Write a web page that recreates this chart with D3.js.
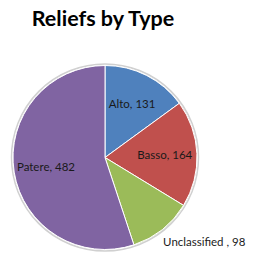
<!DOCTYPE html>
<html><head><meta charset="utf-8">
<script src="https://cdn.jsdelivr.net/npm/d3@7"></script>
<style>html,body{margin:0;padding:0;background:#fff;}svg{display:block;}</style>
</head><body>
<script>
const title = "Reliefs by Type";
const categories = ["Alto", "Basso", "Unclassified ", "Patere"];
const values = [131, 164, 98, 482];
const colors = ["#4F81BD", "#C0504D", "#9BBB59", "#8064A2"];

const W = 257, H = 270;
const cx = 105, cy = 157.5, R = 92;
const svg = d3.select("body").append("svg").attr("width", W).attr("height", H);

svg.append("text").attr("x", 103).attr("y", 26).attr("text-anchor", "middle")
  .attr("font-family", "Lato, sans-serif").attr("font-weight", "bold").attr("font-size", 21.5)
  .attr("fill", "#000").text(title);

const data = categories.map((c, i) => ({cat: c, value: values[i], color: colors[i]}));
const pie = d3.pie().value(d => d.value).sort(null);
const arcs = pie(data);
const arc = d3.arc().innerRadius(0).outerRadius(R);
const g = svg.append("g").attr("transform", `translate(${cx},${cy})`);

g.append("circle").attr("r", R + 1.5).attr("fill", "none").attr("stroke", "#d0d0d0").attr("stroke-width", 1.5);
g.selectAll("path").data(arcs).join("path").attr("d", arc)
  .attr("fill", d => d.data.color).attr("stroke", "#fff").attr("stroke-width", 1);

const inner = d3.arc().innerRadius(R * 0.65).outerRadius(R * 0.65);
const outer = d3.arc().innerRadius(R * 1.12).outerRadius(R * 1.12);
g.selectAll("text.lbl").data(arcs).join("text").attr("class", "lbl")
  .each(function(d) {
    const small = d.data.value < 100;
    const p = small ? outer.centroid(d) : inner.centroid(d);
    d3.select(this).attr("x", p[0] + (small ? -6 : 0)).attr("y", p[1] + (small ? 4 : 0))
      .attr("text-anchor", small ? "start" : "middle");
  })
  .attr("dy", "0.35em")
  .attr("font-family", "Lato, sans-serif").attr("font-size", 11.5).attr("fill", "#1a1a1a")
  .text(d => `${d.data.cat}, ${d.data.value}`);
</script>
</body></html>
